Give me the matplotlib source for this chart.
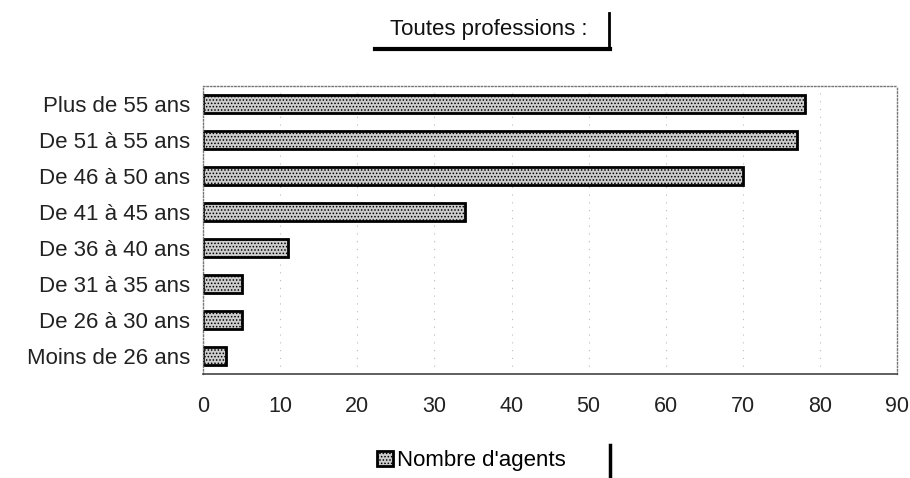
import matplotlib
matplotlib.use("Agg")
from matplotlib import pyplot as plt
from matplotlib.lines import Line2D

plt.rcParams['font.family'] = ['Liberation Sans', 'DejaVu Sans']
plt.rcParams['hatch.linewidth'] = 0.7

# data
categories = ["Moins de 26 ans", "De 26 à 30 ans", "De 31 à 35 ans", "De 36 à 40 ans",
              "De 41 à 45 ans", "De 46 à 50 ans", "De 51 à 55 ans", "Plus de 55 ans"]
agents = [3, 5, 5, 11, 34, 70, 77, 78]
xticks = [0, 10, 20, 30, 40, 50, 60, 70, 80, 90]

fig = plt.figure(figsize=(9.1, 4.78), dpi=100)
ax = fig.add_axes([0.223, 0.218, 0.763, 0.602])

bars = ax.barh(range(len(categories)), agents, height=0.5, color='#cccccc',
               edgecolor='black', linewidth=2, hatch='.....', label="Nombre d'agents")

ax.set_xlim(0, 90)
ax.set_ylim(-0.5, len(categories) - 0.5)
ax.set_xticks(xticks)
ax.set_yticks(range(len(categories)))
ax.set_yticklabels(categories, fontsize=16, color='#222222')
ax.set_xticklabels([str(t) for t in xticks], fontsize=15.5, color='#222222')
ax.tick_params(axis='both', length=0)
ax.tick_params(axis='x', pad=16)
ax.tick_params(axis='y', pad=9)

ax.grid(axis='x', color='#bbbbbb', linestyle=(0, (1, 6)), linewidth=0.8)
ax.set_axisbelow(True)
for side in ['left', 'top', 'right']:
    ax.spines[side].set_linestyle((0, (1, 1.5)))
    ax.spines[side].set_color('#777777')
    ax.spines[side].set_linewidth(1.0)
ax.spines['bottom'].set_color('#444444')
ax.spines['bottom'].set_linewidth(1.2)

# title with shadow frame
fig.text(0.537, 0.938, "Toutes professions :", fontsize=16, ha='center', va='center', color='#111111')
fig.add_artist(Line2D([0.412, 0.670], [0.897, 0.897], color='black', linewidth=3))
fig.add_artist(Line2D([0.669, 0.669], [0.897, 0.972], color='black', linewidth=2))

# legend
leg = fig.legend(handles=[bars], loc='center', bbox_to_anchor=(0.518, 0.036),
                 frameon=False, fontsize=16, handlelength=0.7, handleheight=0.7,
                 handletextpad=0.2)
fig.add_artist(Line2D([0.670, 0.670], [0.0, 0.068], color='black', linewidth=2.5))

plt.savefig("out.png", dpi=100)
plt.close()
